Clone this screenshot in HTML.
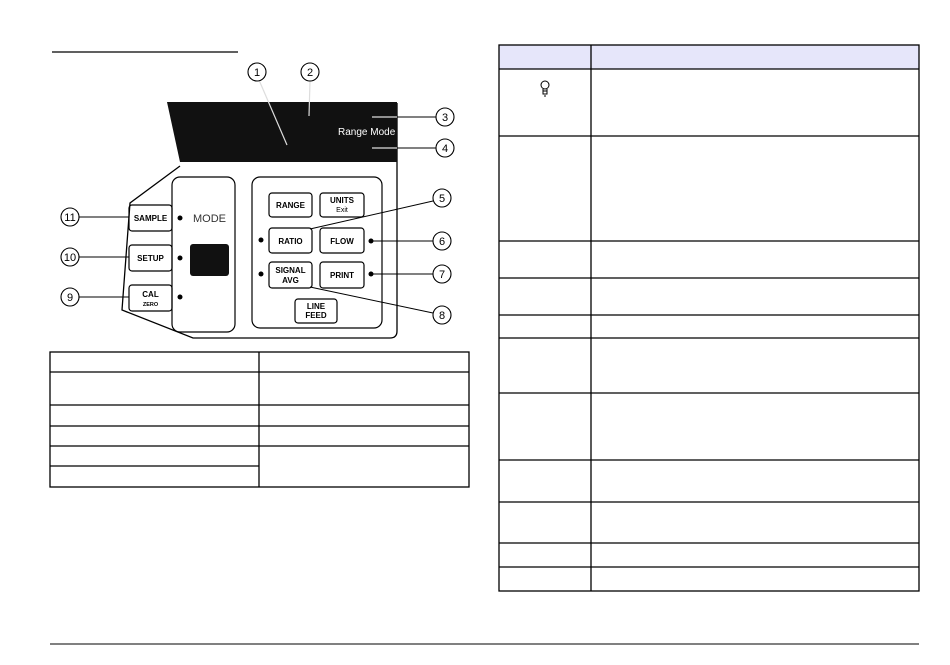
<!DOCTYPE html>
<html><head><meta charset="utf-8"><style>html,body{margin:0;padding:0;background:#fff}svg{display:block}</style></head><body>
<svg width="950" height="665" viewBox="0 0 950 665" xmlns="http://www.w3.org/2000/svg" font-family="Liberation Sans, sans-serif">
<line x1="52" y1="52" x2="238" y2="52" stroke="#000" stroke-width="1.2"/>
<line x1="50" y1="644" x2="919" y2="644" stroke="#000" stroke-width="1"/>
<!-- right table -->
<rect x="499" y="45" width="420" height="24" fill="#e6e6fa"/>
<g stroke="#000" stroke-width="1.3" fill="none">
<rect x="499" y="45" width="420" height="546"/>
<line x1="591" y1="45" x2="591" y2="591"/>
<line x1="499" y1="69" x2="919" y2="69"/>
<line x1="499" y1="136" x2="919" y2="136"/>
<line x1="499" y1="241" x2="919" y2="241"/>
<line x1="499" y1="278" x2="919" y2="278"/>
<line x1="499" y1="315" x2="919" y2="315"/>
<line x1="499" y1="338" x2="919" y2="338"/>
<line x1="499" y1="393" x2="919" y2="393"/>
<line x1="499" y1="460" x2="919" y2="460"/>
<line x1="499" y1="502" x2="919" y2="502"/>
<line x1="499" y1="543" x2="919" y2="543"/>
<line x1="499" y1="567" x2="919" y2="567"/>
</g>
<g stroke="#000" stroke-width="1" fill="none"><circle cx="545" cy="85" r="4"/><path d="M543 89 v5 h4 v-5 M543 91 h4 M544 96 h2"/></g>
<!-- left table -->
<g stroke="#000" stroke-width="1.3" fill="none">
<rect x="50" y="352" width="419" height="135"/>
<line x1="259" y1="352" x2="259" y2="487"/>
<line x1="50" y1="372" x2="469" y2="372"/>
<line x1="50" y1="405" x2="469" y2="405"/>
<line x1="50" y1="426" x2="469" y2="426"/>
<line x1="50" y1="446" x2="469" y2="446"/>
<line x1="50" y1="466" x2="259" y2="466"/>
</g>
<!-- panel -->
<path d="M180 166 L130 203 L122 310 L193 338 L390 338 Q397 338 397 331 L397 103" fill="none" stroke="#000" stroke-width="1.3"/>
<path d="M167 102 L397 102 L397 162 L180 162 Z" fill="#111"/>
<text x="338" y="135" font-size="10" fill="#fff">Range Mode</text>
<g stroke="#ddd" stroke-width="1.2"><line x1="259" y1="80" x2="287" y2="145"/><line x1="310" y1="81" x2="309" y2="116"/><line x1="372" y1="117" x2="397" y2="117"/><line x1="372" y1="148" x2="397" y2="148"/></g>
<rect x="172" y="177" width="63" height="155" rx="8" fill="none" stroke="#000" stroke-width="1.2"/>
<rect x="252" y="177" width="130" height="151" rx="8" fill="none" stroke="#000" stroke-width="1.2"/>
<rect x="190" y="244" width="39" height="32" rx="3" fill="#111"/>
<text x="193" y="222" font-size="11" fill="#333">MODE</text>
<g fill="none" stroke="#000" stroke-width="1.2">
<rect x="129" y="205" width="43" height="26" rx="3"/><rect x="129" y="245" width="43" height="26" rx="3"/><rect x="129" y="285" width="43" height="26" rx="3"/>
<rect x="269" y="193" width="43" height="24" rx="3"/><rect x="320" y="193" width="44" height="24" rx="3"/>
<rect x="269" y="228" width="43" height="25" rx="3"/><rect x="320" y="228" width="44" height="25" rx="3"/>
<rect x="269" y="262" width="43" height="26" rx="3"/><rect x="320" y="262" width="44" height="26" rx="3"/>
<rect x="295" y="299" width="42" height="24" rx="3"/>
</g>
<g font-size="8" font-weight="bold" text-anchor="middle" fill="#000">
<text x="150.5" y="221">SAMPLE</text><text x="150.5" y="261">SETUP</text><text x="150.5" y="297">CAL</text><text x="150.5" y="306" font-size="5.5">ZERO</text>
<text x="290.5" y="208">RANGE</text><text x="342" y="203">UNITS</text><text x="342" y="212" font-size="7" font-weight="normal">Exit</text>
<text x="290.5" y="244">RATIO</text><text x="342" y="244">FLOW</text>
<text x="290.5" y="273">SIGNAL</text><text x="290.5" y="283">AVG</text><text x="342" y="278">PRINT</text>
<text x="316" y="309">LINE</text><text x="316" y="318">FEED</text>
</g>
<g fill="#000"><circle cx="180" cy="218" r="2.5"/><circle cx="180" cy="258" r="2.5"/><circle cx="180" cy="297" r="2.5"/><circle cx="261" cy="240" r="2.5"/><circle cx="261" cy="274" r="2.5"/><circle cx="371" cy="241" r="2.5"/><circle cx="371" cy="274" r="2.5"/></g>
<g stroke="#000" stroke-width="1"><line x1="397" y1="117" x2="436" y2="117"/><line x1="397" y1="148" x2="436" y2="148"/><line x1="433" y1="201" x2="310" y2="229"/><line x1="373" y1="241" x2="433" y2="241"/><line x1="373" y1="274" x2="433" y2="274"/><line x1="310" y1="287" x2="433" y2="313"/><line x1="79" y1="217" x2="129" y2="217"/><line x1="79" y1="257" x2="129" y2="257"/><line x1="79" y1="297" x2="129" y2="297"/></g>
<g fill="#fff" stroke="#000" stroke-width="1.1">
<circle cx="257" cy="72" r="9"/><circle cx="310" cy="72" r="9"/><circle cx="445" cy="117" r="9"/><circle cx="445" cy="148" r="9"/><circle cx="442" cy="198" r="9"/><circle cx="442" cy="241" r="9"/><circle cx="442" cy="274" r="9"/><circle cx="442" cy="315" r="9"/><circle cx="70" cy="217" r="9"/><circle cx="70" cy="257" r="9"/><circle cx="70" cy="297" r="9"/>
</g>
<g font-size="11" text-anchor="middle" fill="#000">
<text x="257" y="76">1</text><text x="310" y="76">2</text><text x="445" y="121">3</text><text x="445" y="152">4</text><text x="442" y="202">5</text><text x="442" y="245">6</text><text x="442" y="278">7</text><text x="442" y="319">8</text><text x="70" y="221">11</text><text x="70" y="261">10</text><text x="70" y="301">9</text>
</g>
</svg>
</body></html>
